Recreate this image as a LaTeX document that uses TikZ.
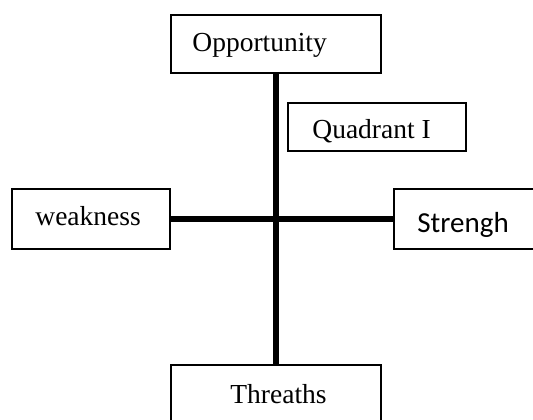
\documentclass[tikz,border=0pt]{standalone}
\usepackage{fontspec}
\setmainfont{Liberation Serif}
\newfontfamily\calibrifont{Carlito}
\begin{document}
\begin{tikzpicture}[x=0.5pt,y=-0.5pt,
  box/.style={draw=black,line width=0.9pt,fill=white,inner sep=0pt,rectangle},
  axis/.style={draw=black,line width=2.7pt},
  lbl/.style={inner sep=0pt,anchor=base west,font=\fontsize{13.75}{16}\selectfont},
  lblsans/.style={inner sep=0pt,anchor=base west,font=\calibrifont\fontsize{14.5}{17}\selectfont}]
\useasboundingbox (0,0) rectangle (533,419);
\clip (0,0) rectangle (533,419);
% boxes
\node[box,minimum width=105pt,minimum height=29pt] (opp) at (276,44) {};
\node[box,minimum width=89pt,minimum height=24pt] (quad) at (377,127) {};
\node[box,minimum width=79pt,minimum height=30pt] (weak) at (91,219) {};
\node[box,minimum width=90pt,minimum height=30pt] (str) at (484,219) {};
\node[box,minimum width=105pt,minimum height=32pt] (thr) at (276,397) {};
% axes
\draw[axis] (opp.south) -- (thr.north);
\draw[axis] (weak.east) -- (str.west);
% labels
\node[lbl] (toppt) at (192,51.7) {Opportunity};
\node[lbl] (tquad) at (312,138) {Quadrant I};
\node[lbl] (tweak) at (35,225) {weakness};
\node[lblsans] (tstr) at (417,232) {Strengh};
\node[lbl] (tthr) at (230,403) {Threaths};
\end{tikzpicture}
\end{document}
